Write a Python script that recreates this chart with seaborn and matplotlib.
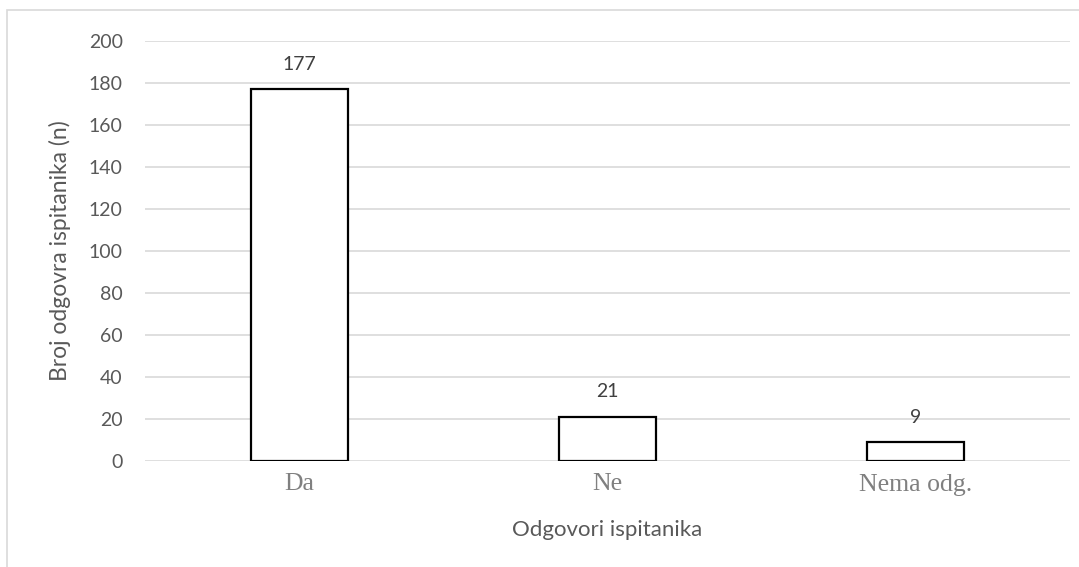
import matplotlib
matplotlib.use("Agg")
import matplotlib.pyplot as plt
import seaborn as sns
import pandas as pd
from matplotlib.patches import Rectangle

categories = ["Da", "Ne", "Nema odg."]
counts = [177, 21, 9]
y_ticks = [0, 20, 40, 60, 80, 100, 120, 140, 160, 180, 200]

df = pd.DataFrame({"odgovor": categories, "n": counts})

sns.set_theme(style="white")
plt.rcParams["font.family"] = ["Lato", "DejaVu Sans"]

fig = plt.figure(figsize=(10.79, 5.67), dpi=100)
ax = fig.add_axes([145 / 1079, 1 - 461 / 567, (1070 - 145) / 1079, (461 - 41) / 567])

sns.barplot(data=df, x="odgovor", y="n", ax=ax, color="white",
            edgecolor="black", linewidth=1.6, width=0.315, saturation=1)

ax.set_ylim(0, 200)
ax.set_yticks(y_ticks)
ax.yaxis.grid(True, color="#d9d9d9", linewidth=1.2)
ax.set_axisbelow(True)
for s in ax.spines.values():
    s.set_visible(False)
ax.tick_params(axis="both", length=0)
ax.tick_params(axis="y", labelsize=14, labelcolor="#595959", pad=16)
ax.set_xticks(range(len(categories)))
ax.set_xticklabels(categories, family=["Liberation Serif"], fontsize=18.5, color="#808080")
ax.tick_params(axis="x", pad=9)

ax.set_xlabel("Odgovori ispitanika", fontsize=16, color="#595959", va="center")
ax.xaxis.set_label_coords(0.5, -0.165)
ax.set_ylabel("Broj odgovra ispitanika (n)", fontsize=16.5, color="#595959", va="center")
ax.yaxis.set_label_coords((60 - 145) / 925, 0.5)

for i, v in enumerate(counts):
    ax.annotate(str(v), (i, v), xytext=(0, 18), textcoords="offset points",
                ha="center", va="center", fontsize=14, color="#404040")

fig.patches.append(Rectangle((7 / 1079, -0.1), 1.2, 1 - 10 / 567 + 0.1,
                             transform=fig.transFigure, fill=False,
                             edgecolor="#d9d9d9", linewidth=1.2))

fig.savefig("out.png", dpi=100)
